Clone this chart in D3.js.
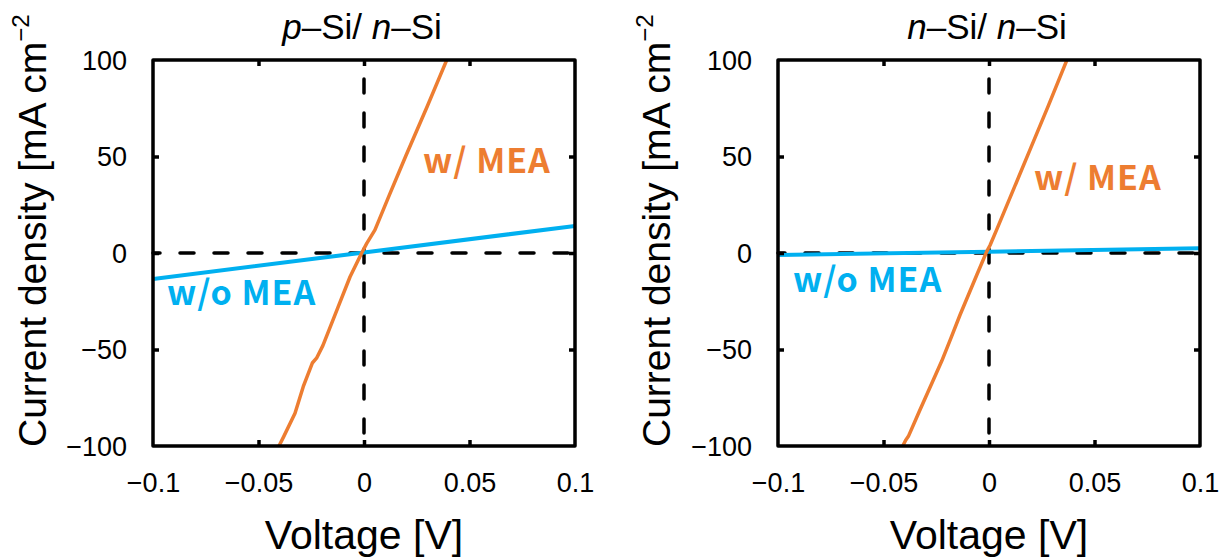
<!DOCTYPE html>
<html>
<head>
<meta charset="utf-8">
<script src="https://cdn.jsdelivr.net/npm/d3@7"></script>
<style>
  html, body { margin: 0; padding: 0; background: #fff; }
  svg { display: block; }
</style>
</head>
<body>
<svg id="chart" width="1227" height="560"></svg>
<script>
// ---------- data ----------
const xTicks = [-0.1, -0.05, 0, 0.05, 0.1];
const yTicks = [-100, -50, 0, 50, 100];
const xDomain = [-0.1, 0.1];
const yDomain = [-100, 100];

// p-Si / n-Si
const pn_withV = [-0.0412, -0.0380, -0.0327, -0.0288, -0.0245, -0.0225, -0.0195, -0.0122, -0.0066, -0.0011, 0.0013, 0.0052, 0.0120, 0.0197, 0.0300, 0.0396];
const pn_withJ = [-102, -95, -83, -69.3, -57, -54.5, -48, -27.8, -12.3, 0, 5, 12, 30, 50, 76, 101];
const pn_withoutV = [-0.1, 0, 0.1];
const pn_withoutJ = [-13.5, 0.3, 14];

// n-Si / n-Si
const nn_withV = [-0.0418, -0.0395, -0.0382, -0.0330, -0.0264, -0.0224, -0.0180, -0.0137, -0.0058, -0.0011, 0.0005, 0.0036, 0.0120, 0.0200, 0.0280, 0.0373];
const nn_withJ = [-102, -97, -95, -82, -65.8, -56, -44, -32, -11.4, 0.7, 4, 12, 34, 55, 76, 101];
const nn_withoutV = [-0.1, 0, 0.1];
const nn_withoutJ = [-1.0, 0.7, 2.5];

const labelWith = "w/ MEA";
const labelWithout = "w/o MEA";

const ORANGE = "#ED7D31";
const BLUE = "#00B0F0";

const svg = d3.select("#chart");
const tickFont = "Liberation Sans, Arial, sans-serif";
const fmt = v => v === 0 ? "0" : d3.format("")(v);

function panel(opt) {
  const x = d3.scaleLinear().domain(xDomain).range([opt.x0, opt.x1]);
  const y = d3.scaleLinear().domain(yDomain).range([446, 60]);
  const g = svg.append("g");
  const clipId = "clip" + opt.id;
  svg.append("clipPath").attr("id", clipId).append("rect")
    .attr("x", x(-0.1)).attr("y", y(100)).attr("width", x(0.1) - x(-0.1)).attr("height", y(-100) - y(100));

  // dashed zero lines
  g.append("line").attr("x1", x(-0.1)).attr("x2", x(0.1)).attr("y1", y(0)).attr("y2", y(0))
    .attr("stroke", "#000").attr("stroke-width", 3.5).attr("stroke-dasharray", "14,20")
    .attr("stroke-dashoffset", 7).attr("stroke-linecap", "round");
  g.append("line").attr("x1", x(0)).attr("x2", x(0)).attr("y1", y(100)).attr("y2", y(-100))
    .attr("stroke", "#000").attr("stroke-width", 3.5).attr("stroke-dasharray", "14,20")
    .attr("stroke-dashoffset", 15).attr("stroke-linecap", "round");

  const line = d3.line().x(d => x(d[0])).y(d => y(d[1]));
  const series = [
    {V: opt.withoutV, J: opt.withoutJ, color: BLUE, w: 4},
    {V: opt.withV, J: opt.withJ, color: ORANGE, w: 3.5}
  ];
  series.forEach(s => {
    g.append("path").datum(s.V.map((v, i) => [v, s.J[i]]))
      .attr("d", line).attr("fill", "none").attr("stroke", s.color)
      .attr("stroke-width", s.w).attr("stroke-linejoin", "round")
      .attr("clip-path", `url(#${clipId})`);
  });

  // axes with inward ticks
  const ax = [
    d3.axisBottom(x).tickValues(xTicks).tickSize(-6).tickFormat(fmt),
    d3.axisTop(x).tickValues(xTicks).tickSize(-6).tickFormat(""),
    d3.axisLeft(y).tickValues(yTicks).tickSize(-6).tickFormat(fmt),
    d3.axisRight(y).tickValues(yTicks).tickSize(-6).tickFormat("")
  ];
  const tr = [`translate(0,${y(-100)})`, `translate(0,${y(100)})`, `translate(${x(-0.1)},0)`, `translate(${x(0.1)},0)`];
  ax.forEach((a, i) => {
    const ag = g.append("g").attr("transform", tr[i]).call(a);
    ag.select(".domain").remove();
    ag.selectAll(".tick line").attr("stroke", "#000").attr("stroke-width", 3.5)
      .filter(d => d === xDomain[0] || d === xDomain[1] || d === yDomain[0] || d === yDomain[1]).remove();
    ag.selectAll("text").attr("font-family", tickFont).attr("font-size", 27).attr("fill", "#000");
    if (i === 0) ag.selectAll("text").attr("y", 46).attr("dy", 0);
    if (i === 2) ag.selectAll("text").attr("x", -26).attr("dy", "0.35em");
  });

  // frame
  g.append("rect").attr("x", x(-0.1)).attr("y", y(100))
    .attr("width", x(0.1) - x(-0.1)).attr("height", y(-100) - y(100))
    .attr("fill", "none").attr("stroke", "#000").attr("stroke-width", 3.5)
    .attr("stroke-linejoin", "round");

  // titles
  const t = g.append("text").attr("x", (x(-0.1) + x(0.1)) / 2 - 2).attr("y", 39)
    .attr("text-anchor", "middle").attr("font-family", tickFont).attr("font-size", 35);
  t.append("tspan").attr("font-style", "italic").text(opt.t1);
  t.append("tspan").text("\u2013Si/ ");
  t.append("tspan").attr("font-style", "italic").text("n");
  t.append("tspan").text("\u2013Si");

  g.append("text").attr("x", (x(-0.1) + x(0.1)) / 2).attr("y", 549)
    .attr("text-anchor", "middle").attr("font-family", tickFont).attr("font-size", 41)
    .text("Voltage [V]");

  const yl = g.append("text").attr("transform", `translate(${opt.ylx},447) rotate(-90)`)
    .attr("text-anchor", "start").attr("font-family", tickFont).attr("font-size", 39);
  yl.append("tspan").text("Current density [mA cm");
  yl.append("tspan").attr("font-size", 24).attr("dy", -17).text("\u22122");

  // series labels
  const lab = (txt, v, j, color) => g.append("text").attr("x", x(v)).attr("y", y(j))
    .attr("font-family", "Noto Sans CJK JP, Noto Sans, sans-serif").attr("font-weight", 700)
    .attr("font-size", 34).attr("fill", color).attr("letter-spacing", 1).text(txt);
  lab(labelWith, opt.wLab[0], opt.wLab[1], ORANGE);
  lab(labelWithout, opt.woLab[0], opt.woLab[1], BLUE);
}

panel({id: 1, x0: 153, x1: 575, t1: "p", ylx: 46,
  withV: pn_withV, withJ: pn_withJ, withoutV: pn_withoutV, withoutJ: pn_withoutJ,
  wLab: [0.028, 41.5], woLab: [-0.0934, -27]});
panel({id: 2, x0: 778, x1: 1200, t1: "n", ylx: 670,
  withV: nn_withV, withJ: nn_withJ, withoutV: nn_withoutV, withoutJ: nn_withoutJ,
  wLab: [0.0213, 32.6], woLab: [-0.0929, -20.2]});
</script>
</body>
</html>
